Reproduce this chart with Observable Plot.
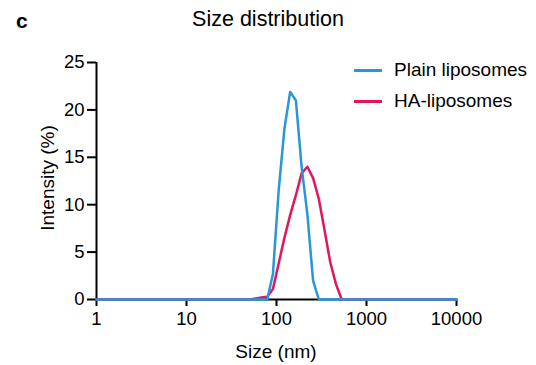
<!DOCTYPE html>
<html>
<head>
<meta charset="utf-8">
<script src="https://cdn.jsdelivr.net/npm/d3@7"></script>
<script src="https://cdn.jsdelivr.net/npm/@observablehq/plot@0.6"></script>
<style>
  html, body { margin: 0; padding: 0; background: #fff; }
  #wrap { position: relative; width: 536px; height: 365px; font-family: "Liberation Sans", Arial, sans-serif; color: #000; }
  #wrap svg { position: absolute; left: 0; top: 0; }
  .abs { position: absolute; white-space: nowrap; line-height: 1; }
</style>
</head>
<body>
<div id="wrap"></div>
<script>
// Size bins (nm) and intensity (%)
const plainSize = [1, 68.06, 78.82, 91.28, 105.7, 122.4, 141.8, 164.2, 190.1, 220.2, 255.0, 295.3, 342.0, 10000];
const plainIntensity = [0, 0, 0, 2.7, 11.5, 18.0, 21.9, 21.0, 14.0, 9.0, 2.0, 0, 0, 0];

const haSize = [1, 50.75, 58.77, 68.06, 78.82, 91.28, 105.7, 122.4, 141.8, 164.2, 190.1, 220.2, 255.0, 295.3, 342.0, 396.1, 458.7, 531.2, 10000];
const haIntensity = [0, 0, 0.1, 0.2, 0.3, 1.1, 3.8, 6.5, 8.9, 11.0, 13.3, 14.0, 12.8, 10.6, 7.3, 3.9, 1.6, 0, 0];

const xTicks = [1, 10, 100, 1000, 10000];
const yTicks = [0, 5, 10, 15, 20, 25];

const seriesNames = ["Plain liposomes", "HA-liposomes"];
const seriesColors = ["#2a96d8", "#e0185a"];

const plain = plainSize.map((s, i) => ({size: s, intensity: plainIntensity[i]}));
const ha = haSize.map((s, i) => ({size: s, intensity: haIntensity[i]}));

const chart = Plot.plot({
  width: 536,
  height: 365,
  marginTop: 62,
  marginBottom: 66,
  marginLeft: 96,
  marginRight: 80,
  style: {fontFamily: "'Liberation Sans', Arial, sans-serif", fontSize: "18.5px", color: "#000", background: "transparent"},
  x: {type: "log", domain: [1, 10000]},
  y: {domain: [0, 25]},
  marks: [
    Plot.axisX({ticks: xTicks, tickFormat: d => String(d), tickSize: 7, tickPadding: 5, strokeWidth: 2, label: null, fontSize: 18.5}),
    Plot.axisY({ticks: yTicks, tickSize: 9, tickPadding: 3, strokeWidth: 2, label: null, fontSize: 18.5}),
    Plot.ruleY([0], {stroke: "#000", strokeWidth: 2}),
    Plot.ruleX([1], {stroke: "#000", strokeWidth: 2}),
    Plot.line(ha, {x: "size", y: "intensity", stroke: seriesColors[1], strokeWidth: 2.5}),
    Plot.line(plain, {x: "size", y: "intensity", stroke: seriesColors[0], strokeWidth: 2.5})
  ]
});

const wrap = document.getElementById("wrap");
wrap.appendChild(chart);

function addText(txt, css) {
  const d = document.createElement("div");
  d.className = "abs";
  d.textContent = txt;
  Object.assign(d.style, css);
  wrap.appendChild(d);
  return d;
}

addText("c", {left: "16px", top: "10px", fontSize: "21px", fontWeight: "bold"});
addText("Size distribution", {left: "0", width: "536px", textAlign: "center", top: "9px", fontSize: "21.5px"});
addText("Size (nm)", {left: "96px", width: "360px", textAlign: "center", top: "342px", fontSize: "19px"});
addText("Intensity (%)", {left: "47px", top: "178px", fontSize: "19px", transform: "translate(-50%, -50%) rotate(-90deg)"});

// Legend
seriesNames.forEach((name, i) => {
  const top = 70 + i * 31;
  const sw = document.createElement("div");
  sw.className = "abs";
  Object.assign(sw.style, {left: "354px", top: (top - 1.5) + "px", width: "28px", height: "3px", background: seriesColors[i]});
  wrap.appendChild(sw);
  addText(name, {left: "394px", top: (top - 10) + "px", fontSize: "19px"});
});
</script>
</body>
</html>
